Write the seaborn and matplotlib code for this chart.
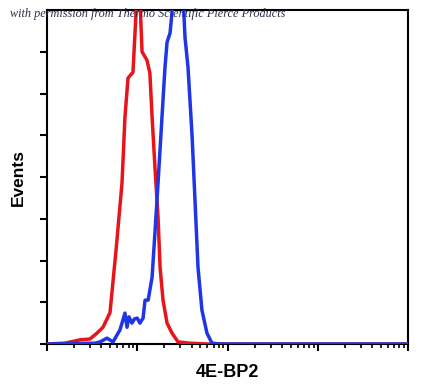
import numpy as np
import pandas as pd
import matplotlib
matplotlib.use("Agg")
import matplotlib.pyplot as plt
import seaborn as sns
from matplotlib.ticker import LogLocator, NullFormatter

# --- DATA ---
# fluorescence intensity (log axis) and event counts for each sample
red_x = [1.0, 1.58, 2.32, 2.99, 3.58, 4.17, 4.62, 4.99, 5.39, 5.85, 6.78, 7.31,
         7.90, 8.97, 9.44, 10.07, 10.7, 11.3, 12.8, 13.8, 14.6, 15.7, 17.0,
         17.9, 19.3, 21.4, 24.3, 28.3, 38.4, 60.0, 10000.0]
red_y = [0.0, 0.02, 0.10, 0.12, 0.26, 0.40, 0.60, 0.75, 1.50, 2.30, 3.86, 5.44,
         6.37, 6.51, 7.45, 8.6, 8.3, 7.0, 6.8, 6.49, 5.44, 4.24, 3.04,
         1.84, 1.05, 0.50, 0.26, 0.05, 0.02, 0.0, 0.0]

blue_x = [1.0, 3.40, 3.87, 4.62, 5.39, 6.44, 7.31, 7.70, 8.10, 8.74, 9.3, 10.0,
          10.7, 11.6, 12.2, 13.2, 14.6, 15.7, 17.0, 18.8, 20.3, 21.4, 23.1,
          24.9, 28.3, 32.1, 33.8, 36.5, 40.4, 43.6, 47.1, 52.1, 59.2, 67.3,
          82.6, 10000.0]
blue_y = [0.0, 0.02, 0.05, 0.14, 0.05, 0.34, 0.74, 0.40, 0.65, 0.50, 0.60, 0.62,
          0.50, 0.62, 1.05, 1.05, 1.60, 2.66, 3.86, 5.44, 6.63, 7.23, 7.45,
          8.2, 8.6, 8.4, 7.35, 6.63, 5.03, 3.46, 1.84, 0.81, 0.26, 0.02,
          0.0, 0.0]

y_ticks = [0, 1, 2, 3, 4, 5, 6, 7]

red = pd.DataFrame({"intensity": red_x, "events": red_y})
blue = pd.DataFrame({"intensity": blue_x, "events": blue_y})

sns.set_style("ticks")
plt.rcParams["font.family"] = ["DejaVu Sans"]

fig = plt.figure(figsize=(4.22, 3.92), dpi=100)
ax = fig.add_axes([47 / 422, 48 / 392, 361 / 422, 334 / 392])

sns.lineplot(data=red, x="intensity", y="events", color="#e8141b",
             linewidth=2.5, ax=ax, zorder=3, sort=False)
sns.lineplot(data=blue, x="intensity", y="events", color="#1f35e8",
             linewidth=2.5, ax=ax, zorder=3, sort=False)

ax.set_xscale("log")
ax.set_xlim(1, 10000)
ax.set_ylim(0, 8)
ax.set_yticks(y_ticks)
ax.set_yticklabels([])
ax.xaxis.set_major_locator(LogLocator(base=10, numticks=10))
ax.xaxis.set_minor_locator(LogLocator(base=10, subs=np.arange(2, 10), numticks=10))
ax.xaxis.set_major_formatter(NullFormatter())
ax.xaxis.set_minor_formatter(NullFormatter())

for s in ax.spines.values():
    s.set_linewidth(1.5)
    s.set_color("black")
ax.tick_params(axis="both", which="major", length=5, width=1.5, color="black")
ax.tick_params(axis="x", which="minor", length=3, width=1.2, color="black")

ax.set_xlabel("4E-BP2", fontsize=13, fontweight="bold", color="black",
              family=["Liberation Sans", "DejaVu Sans"], labelpad=6)
ax.set_ylabel("Events", fontsize=12.5, fontweight="bold", color="black",
              family=["Liberation Sans", "DejaVu Sans"], labelpad=7)

fig.text(10 / 422, 1 - 17 / 392, "with permission from Thermo Scientific Pierce Products",
         fontsize=8.8, style="italic", family=["Liberation Serif", "DejaVu Serif"],
         color="#2a2f4a", va="baseline", ha="left")

fig.savefig("out.png", dpi=100)
